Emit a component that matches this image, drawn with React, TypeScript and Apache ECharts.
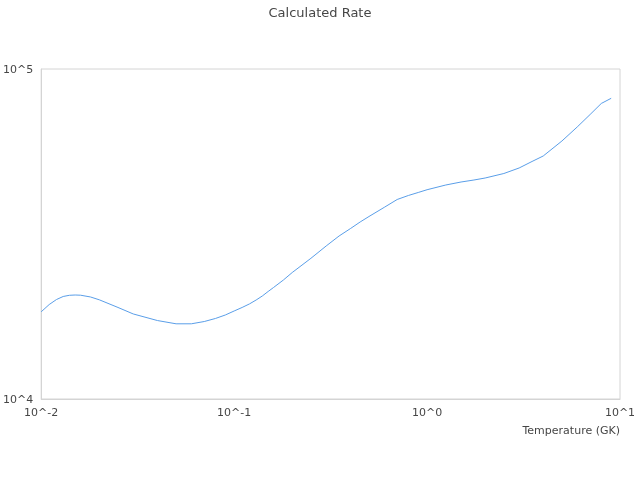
import React, { useEffect, useRef } from "react";
import * as echarts from "echarts";

const temperatures: number[] = [
  0.01, 0.011, 0.012, 0.013, 0.014, 0.015, 0.016, 0.018, 0.02, 0.025, 0.03, 0.04,
  0.05, 0.06, 0.07, 0.08, 0.09, 0.1, 0.11, 0.12, 0.13, 0.14, 0.15, 0.16, 0.18, 0.2,
  0.25, 0.3, 0.35, 0.4, 0.45, 0.5, 0.6, 0.7, 0.8, 0.9, 1, 1.25, 1.5, 1.75, 2, 2.5,
  3, 3.5, 4, 5, 6, 7, 8, 9,
];

const rates: number[] = [
  18380, 19330, 20020, 20450, 20620, 20660, 20630, 20380, 19980, 18940, 18100, 17290,
  16900, 16900, 17170, 17540, 17970, 18480, 18940, 19410, 19950, 20520, 21170, 21770, 22940, 24170,
  26690, 29090, 31190, 32820, 34390, 35730, 38090, 40230, 41370, 42250, 43070, 44510, 45450, 46090, 46740, 48230,
  50120, 52450, 54500, 60510, 66720, 72800, 78630, 81520,
];

const titleText = "Calculated Rate";
const xAxisName = "Temperature (GK)";

export default function App() {
  const ref = useRef<HTMLDivElement>(null);
  useEffect(() => {
    if (!ref.current) return;
    const chart = echarts.init(ref.current, undefined, { renderer: "svg" });
    const font = "DejaVu Sans";
    const fmt = (v: number) => "10^" + Math.round(Math.log10(v));
    chart.setOption({
      animation: false,
      textStyle: { fontFamily: font },
      title: {
        text: titleText,
        left: "center",
        top: 1,
        textStyle: { fontFamily: font, fontSize: 13, fontWeight: "normal", color: "#464646" },
      },
      grid: {
        left: 41,
        right: 20,
        top: 69,
        bottom: 81,
        show: true,
        borderColor: "#d4d4d4",
        borderWidth: 1,
      },
      xAxis: {
        type: "log",
        logBase: 10,
        min: 0.01,
        max: 10,
        name: xAxisName,
        nameLocation: "end",
        nameGap: 0,
        nameTextStyle: {
          fontFamily: font,
          fontSize: 11,
          color: "#464646",
          align: "right",
          verticalAlign: "top",
          padding: [26, 0, 0, 0],
        },
        axisLine: { show: true, lineStyle: { color: "#d4d4d4" } },
        axisTick: { show: false },
        splitLine: { show: false },
        axisLabel: { formatter: fmt, fontFamily: font, fontSize: 11, color: "#464646", margin: 8 },
      },
      yAxis: {
        type: "log",
        logBase: 10,
        min: 10000,
        max: 100000,
        axisLine: { show: true, lineStyle: { color: "#d4d4d4" } },
        axisTick: { show: false },
        splitLine: { show: false },
        axisLabel: { formatter: fmt, fontFamily: font, fontSize: 11, color: "#464646", margin: 8 },
      },
      series: [
        {
          type: "line",
          data: temperatures.map((t, i) => [t, rates[i]]),
          showSymbol: false,
          symbol: "none",
          lineStyle: { color: "#5a9ee8", width: 1 },
          itemStyle: { color: "#5a9ee8" },
        },
      ],
    });
    return () => chart.dispose();
  }, []);
  return (
    <div
      ref={ref}
      style={{ position: "fixed", left: 0, top: 0, width: 640, height: 480 }}
    />
  );
}
